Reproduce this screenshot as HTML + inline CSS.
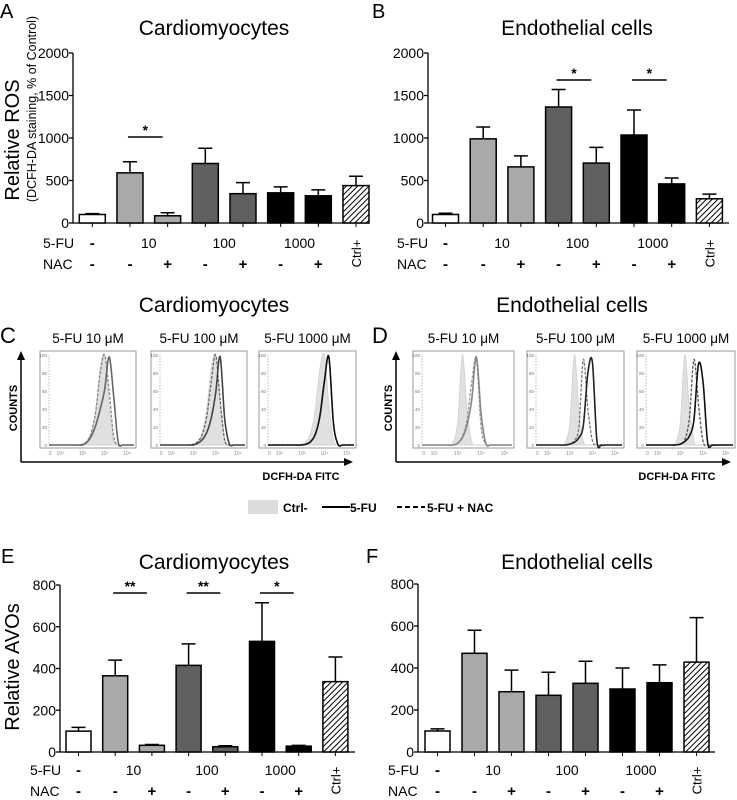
<!DOCTYPE html>
<html><head><meta charset="utf-8">
<style>
html,body{margin:0;padding:0;background:#fff;}
svg{display:block;font-family:"Liberation Sans",Arial,sans-serif;}
</style></head>
<body>
<svg id="fig" width="737" height="800" viewBox="0 0 737 800" xmlns="http://www.w3.org/2000/svg">
<defs>
<pattern id="hatch" patternUnits="userSpaceOnUse" width="4" height="4" patternTransform="rotate(45)">
<rect width="4" height="4" fill="#fff"/><line x1="0" y1="0" x2="0" y2="4" stroke="#000" stroke-width="2"/>
</pattern>
</defs>
<g id="root"></g>
</svg>
<script>
// ===== Bar chart data =====
const categories=['Ctrl-','5-FU 10','5-FU 10 + NAC','5-FU 100','5-FU 100 + NAC','5-FU 1000','5-FU 1000 + NAC','Ctrl+'];
const rosCardioVals=[100,590,85,700,345,355,320,440];
const rosCardioErr=[110,720,120,880,475,425,390,550];
const rosEndoVals=[100,990,660,1365,705,1035,460,285];
const rosEndoErr=[115,1130,790,1570,890,1330,530,340];
const avoCardioVals=[100,365,32,415,25,530,28,337];
const avoCardioErr=[118,440,36,518,30,715,32,455];
const avoEndoVals=[100,470,287,270,327,300,330,428];
const avoEndoErr=[110,580,390,380,432,400,415,640];
const rosTicks=[0,500,1000,1500,2000];
const avoTicks=[0,200,400,600,800];
const doseLabels=['10','100','1000'];
const nacSigns=['-','-','+','-','+','-','+'];
// ===== Histogram data (counts % at log10 bins) =====
const histBins=[2.6,2.8,3.0,3.2,3.4,3.6,3.8,4.0,4.2,4.4,4.6,4.8];
const cCtrl=[0,0,1,4,14,40,85,100,45,6,0,0];
const c10Fu=[0,0,0,3,10,22,40,62,98,55,4,0];
const c10Nac=[0,0,1,4,14,38,80,100,60,10,0,0];
const c100Fu=[0,0,0,2,6,14,30,58,98,30,2,0];
const c100Nac=[0,0,1,4,12,32,70,100,50,6,0,0];
const c1000Fu=[0,0,0,1,4,12,32,70,98,25,1,0];
const c1000Nac=[0,0,0,1,4,12,33,72,96,24,1,0];
const dCtrl=[0,3,25,100,40,4,0,0,0,0,0,0];
const d10Fu=[0,0,2,8,22,50,98,35,2,0,0,0];
const d10Nac=[0,0,2,10,28,70,95,20,1,0,0,0];
const d100Fu=[0,0,1,3,8,22,80,92,5,0,0,0];
const d100Nac=[0,0,1,5,20,95,40,5,0,0,0,0];
const d1000Fu=[0,0,1,4,10,28,90,70,3,0,0,0];
const d1000Nac=[0,0,1,6,30,95,45,4,0,0,0,0];
const histYTicks=[0,20,40,60,80,100];
const histXTicks=['0','10²','10³','10⁴','10⁵'];
const histXTickLogs=[1.55,2,3,4,5];

const NS='http://www.w3.org/2000/svg';
const root=document.getElementById('root');
function mk(tag,attrs,parent,text){
  const e=document.createElementNS(NS,tag);
  for(const k in attrs)e.setAttribute(k,attrs[k]);
  if(text!==undefined)e.textContent=text;
  (parent||root).appendChild(e);return e;
}
const fills=['#fff','#a9a9a9','#a9a9a9','#606060','#606060','#000','#000','url(#hatch)'];

function barChart(cfg,vals,errs,ticks){
  const g=mk('g',{});
  
  
  const max=ticks[ticks.length-1];
  const yS=v=>cfg.y0-(v/max)*(cfg.y0-cfg.yTop);
  const xC=i=>cfg.b1+i*cfg.pitch;
  const t=mk('text',{x:cfg.titleX,y:cfg.titleY,'font-size':21,'text-anchor':'middle'},g,cfg.title);
  
  
  const L=mk('text',{x:cfg.letterX,y:cfg.letterY,'font-size':20},g,cfg.letter);
  
  
  const ya=mk('line',{x1:cfg.axisX,y1:cfg.yTop,x2:cfg.axisX,y2:cfg.y0,stroke:'#000','stroke-width':1.3},g);
  
  
  ticks.forEach(v=>{
    mk('line',{x1:cfg.axisX-4,y1:yS(v),x2:cfg.axisX,y2:yS(v),stroke:'#000','stroke-width':1.3},g);
    const tl=mk('text',{x:cfg.axisX-4,y:yS(v)+5,'font-size':14,'text-anchor':'end'},g,String(v));
    
    
  });
  const xa=mk('line',{x1:cfg.axisX,y1:cfg.y0,x2:cfg.endX,y2:cfg.y0,stroke:'#000','stroke-width':1.3},g);
  
  
  vals.forEach((v,i)=>{
    const cx=xC(i);
    mk('line',{x1:cx,y1:cfg.y0,x2:cx,y2:cfg.y0+4,stroke:'#000','stroke-width':1},g);
    const et=yS(errs[i]);
    const el=mk('path',{d:`M${cx},${yS(v)}V${et}M${cx-7},${et}H${cx+7}`,stroke:'#000','stroke-width':1.5,fill:'none'},g);
    
    
    const r=mk('rect',{x:cx-cfg.bw/2,y:yS(v),width:cfg.bw,height:cfg.y0-yS(v),fill:fills[i],stroke:'#000','stroke-width':1.5},g);
    
    
  });
  const r1=mk('text',{x:cfg.rowX,y:cfg.row1,'font-size':14},g,'5-FU');
  
  
  const r2=mk('text',{x:cfg.rowX,y:cfg.row2,'font-size':14},g,'NAC');
  
  
  mk('text',{x:xC(0),y:cfg.row1,'font-size':15,'font-weight':'bold','text-anchor':'middle'},g,'-');
  doseLabels.forEach((d,k)=>{
    const dl=mk('text',{x:(xC(1+2*k)+xC(2+2*k))/2,y:cfg.row1,'font-size':14,'text-anchor':'middle'},g,d);
    
    
  });
  nacSigns.forEach((s,i)=>{
    mk('text',{x:xC(i),y:cfg.row2,'font-size':15,'font-weight':'bold','text-anchor':'middle'},g,s);
  });
  const cp=mk('text',{x:0,y:0,'font-size':13,'text-anchor':'middle',transform:`translate(${xC(7)+5},${(cfg.row1+cfg.row2)/2-5}) rotate(-90)`},g,'Ctrl+');
  
  
  (cfg.sig||[]).forEach(s=>{
    const a=xC(s[0])-2,b=xC(s[1])-5;
    const sl=mk('line',{x1:a,y1:cfg.sigY,x2:b,y2:cfg.sigY,stroke:'#000','stroke-width':1.6},g);
    
    
    mk('text',{x:(a+b)/2,y:cfg.sigY-2,'font-size':14,'font-weight':'bold','text-anchor':'middle'},g,s[2]);
  });
  return g;
}

barChart({name:'panel-a-ros-cardiomyocytes',title:'Cardiomyocytes',titleX:214,titleY:35,letter:'A',letterX:0,letterY:18,
  axisX:73,b1:92.3,pitch:37.67,bw:26,y0:223,yTop:53,endX:369,rowX:43,row1:248,row2:269,sigY:137,sig:[[1,2,'*']]},
  rosCardioVals,rosCardioErr,rosTicks);
barChart({name:'panel-b-ros-endothelial',title:'Endothelial cells',titleX:577,titleY:35,letter:'B',letterX:372,letterY:18,
  axisX:428,b1:445.5,pitch:37.7,bw:26,y0:223,yTop:53,endX:729,rowX:397,row1:248,row2:269,sigY:80,sig:[[3,4,'*'],[5,6,'*']]},
  rosEndoVals,rosEndoErr,rosTicks);
barChart({name:'panel-e-avo-cardiomyocytes',title:'Cardiomyocytes',titleX:214,titleY:569,letter:'E',letterX:1,letterY:563,
  axisX:60,b1:78.5,pitch:36.7,bw:25,y0:752,yTop:585,endX:355,rowX:30,row1:775,row2:796,sigY:593,sig:[[1,2,'**'],[3,4,'**'],[5,6,'*']]},
  avoCardioVals,avoCardioErr,avoTicks);
barChart({name:'panel-f-avo-endothelial',title:'Endothelial cells',titleX:577,titleY:569,letter:'F',letterX:366,letterY:563,
  axisX:418,b1:437.5,pitch:37,bw:25,y0:752,yTop:584,endX:715,rowX:388,row1:775,row2:796},
  avoEndoVals,avoEndoErr,avoTicks);

(function(){
  const a=mk('text',{x:0,y:0,'font-size':20,'text-anchor':'middle',transform:'translate(19,140) rotate(-90)'},root,'Relative ROS');
  
  
  const b=mk('text',{x:0,y:0,'font-size':12.5,'text-anchor':'middle',transform:'translate(36,109) rotate(-90)'},root,'(DCFH-DA staining, % of Control)');
  
  
  const c=mk('text',{x:0,y:0,'font-size':20,'text-anchor':'middle',transform:'translate(19,667) rotate(-90)'},root,'Relative AVOs');
  
  
})();

function smoothPath(pts){
  let d=`M${pts[0][0]},${pts[0][1]}`;
  for(let i=0;i<pts.length-1;i++){
    const p0=pts[i-1]||pts[i],p1=pts[i],p2=pts[i+1],p3=pts[i+2]||p2;
    const c1=[p1[0]+(p2[0]-p0[0])/6,p1[1]+(p2[1]-p0[1])/6];
    const c2=[p2[0]-(p3[0]-p1[0])/6,p2[1]-(p3[1]-p1[1])/6];
    d+=`C${c1[0]},${c1[1]} ${c2[0]},${c2[1]} ${p2[0]},${p2[1]}`;
  }
  return d;
}
function histBox(cfg,ctrl,fu,nac,fuColor,nacColor){
  const g=mk('g',{});
  
  
  const x0=cfg.x,x1=cfg.x+cfg.w,top=cfg.y,bot=cfg.y+97;
  const yTop=top+4,yZero=bot-3;
  const xS=l=>x0+cfg.w*(0.21+(l-2)*0.232);
  const yS=v=>yZero-(v/100)*(yZero-yTop);
  const st=mk('text',{x:(x0+x1)/2,y:top-8,'font-size':13.5,'text-anchor':'middle'},g,cfg.title);
  
  
  mk('rect',{x:x0,y:top,width:cfg.w,height:97,fill:'#fff',stroke:'#999','stroke-width':1},g);
  mk('line',{x1:x0+9,y1:yTop,x2:x0+9,y2:yZero,stroke:'#aaa','stroke-width':0.8,'stroke-dasharray':'1.5,1.5'},g);
  mk('line',{x1:x0+9,y1:yZero,x2:x1-2,y2:yZero,stroke:'#aaa','stroke-width':0.8,'stroke-dasharray':'1.5,1.5'},g);
  histYTicks.forEach(v=>mk('text',{x:x0+7,y:yS(v)+2,'font-size':4.5,fill:'#777','text-anchor':'end'},g,String(v)));
  histXTicks.forEach((t,i)=>mk('text',{x:xS(histXTickLogs[i]),y:bot+7,'font-size':5,fill:'#888','text-anchor':'middle'},g,t));
  const pts=arr=>arr.map((v,i)=>[xS(histBins[i]),yS(v)]);
  const cp=pts(ctrl);
  const cd=smoothPath(cp)+`L${cp[cp.length-1][0]},${yZero}L${cp[0][0]},${yZero}Z`;
  const c=mk('path',{d:cd,fill:'#e0e0e0',stroke:'#d0d0d0','stroke-width':0.8},g);
  
  
  const n=mk('path',{d:`M${x0+9},${yZero}L${pts(nac)[0][0]},${yZero}`+smoothPath(pts(nac)).replace('M','L')+`L${x1-2},${yZero}`,fill:'none',stroke:nacColor,'stroke-width':1.3,'stroke-dasharray':'3,1.5'},g);
  
  
  const f=mk('path',{d:`M${x0+9},${yZero}L${pts(fu)[0][0]},${yZero}`+smoothPath(pts(fu)).replace('M','L')+`L${x1-2},${yZero}`,fill:'none',stroke:fuColor,'stroke-width':1.6},g);
  
  
}
histBox({name:'hist-cardio-10',x:40,y:351,w:96,title:'5-FU 10 μM'},cCtrl,c10Fu,c10Nac,'#666','#888');
histBox({name:'hist-cardio-100',x:151,y:351,w:96,title:'5-FU 100 μM'},cCtrl,c100Fu,c100Nac,'#444','#666');
histBox({name:'hist-cardio-1000',x:259,y:351,w:97,title:'5-FU 1000 μM'},cCtrl,c1000Fu,c1000Nac,'#111','#333');
histBox({name:'hist-endo-10',x:413,y:351,w:101,title:'5-FU 10 μM'},dCtrl,d10Fu,d10Nac,'#888','#999');
histBox({name:'hist-endo-100',x:527,y:351,w:97,title:'5-FU 100 μM'},dCtrl,d100Fu,d100Nac,'#222','#777');
histBox({name:'hist-endo-1000',x:637,y:351,w:98,title:'5-FU 1000 μM'},dCtrl,d1000Fu,d1000Nac,'#111','#555');

(function(){
  const items=[['Cardiomyocytes',214,312,'histogram-title-cardio'],['Endothelial cells',572,312,'histogram-title-endo']];
  items.forEach(it=>{
    const t=mk('text',{x:it[1],y:it[2],'font-size':21,'text-anchor':'middle'},root,it[0]);
    
    
  });
  const c=mk('text',{x:0,y:343,'font-size':22},root,'C');
  
  
  const d=mk('text',{x:372,y:343,'font-size':22},root,'D');
  
  
  [[21,352],[396,352]].forEach(p=>{
    mk('line',{x1:p[0],y1:p[1]+6,x2:p[0],y2:462,stroke:'#000','stroke-width':1.5});
    mk('path',{d:`M${p[0]-4},${p[1]+8}L${p[0]},${p[1]-1}L${p[0]+4},${p[1]+8}Z`,fill:'#000'});
  });
  [[21,352],[396,730]].forEach(p=>{
    mk('line',{x1:p[0],y1:462,x2:p[1]-6,y2:462,stroke:'#000','stroke-width':1.5});
    mk('path',{d:`M${p[1]-8},458L${p[1]+1},462L${p[1]-8},466Z`,fill:'#000'});
  });
  [[13,'counts-label-c'],[388,'counts-label-d']].forEach(p=>{
    const t=mk('text',{x:0,y:0,'font-size':11,'font-weight':'bold','text-anchor':'middle',transform:`translate(${p[0]+4},408) rotate(-90)`},root,'COUNTS');
    
    
  });
  [[301,'x-axis-title-c'],[677,'x-axis-title-d']].forEach(p=>{
    const t=mk('text',{x:p[0],y:480,'font-size':11,'font-weight':'bold','text-anchor':'middle'},root,'DCFH-DA FITC');
    
    
  });
  const lg=mk('g',{});
  
  
  mk('rect',{x:248,y:500,width:30,height:14,fill:'#dcdcdc'},lg);
  mk('text',{x:283,y:512,'font-size':12,'font-weight':'bold'},lg,'Ctrl-');
  mk('line',{x1:322,y1:507,x2:350,y2:507,stroke:'#000','stroke-width':2},lg);
  mk('text',{x:350,y:512,'font-size':12,'font-weight':'bold'},lg,'5-FU');
  mk('line',{x1:397,y1:507,x2:425,y2:507,stroke:'#000','stroke-width':2,'stroke-dasharray':'5,3'},lg);
  mk('text',{x:427,y:512,'font-size':12,'font-weight':'bold'},lg,'5-FU + NAC');
})();
</script>
</body></html>
